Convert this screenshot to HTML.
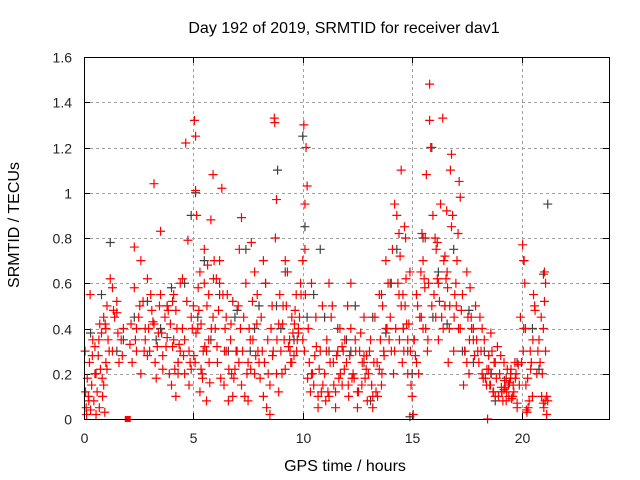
<!DOCTYPE html>
<html><head><meta charset="utf-8"><style>
body{margin:0;background:#fff}
svg{display:block;font-family:"Liberation Sans",sans-serif}
</style></head><body>
<svg id="chart" width="640" height="480">
<text x="344" y="33" font-size="16" text-anchor="middle" fill="#000">Day 192 of 2019, SRMTID for receiver dav1</text>
<text x="345" y="471" font-size="16" text-anchor="middle">GPS time / hours</text>
<text transform="translate(19,225) rotate(-90)" font-size="16" text-anchor="middle">SRMTID / TECUs</text>
<g id="grid"></g><g id="ticks"></g><g id="gray"></g><g id="red"></g>
<rect x="84.5" y="57.5" width="525" height="362" fill="none" stroke="#000"/>
</svg>
<script>
const xTicks=[0,5,10,15,20];
const yTicks=[0,0.2,0.4,0.6,0.8,1,1.2,1.4,1.6];
const yTickLabels=["0","0.2","0.4","0.6","0.8","1","1.2","1.4","1.6"];
const redT=[0.05,0.1,0.15,0.2,0.25,0.3,0.35,0.4,0.45,0.5,0.55,0.6,0.65,0.7,0.75,0.8,0.85,0.9,0.95,1.0,1.05,0.12,0.28,0.5,0.72,0.9,
1.0,1.1,1.2,1.3,1.4,1.5,1.6,1.7,1.8,1.3,1.5,1.05,
2.1,2.2,2.3,2.4,2.5,2.6,2.7,2.8,2.9,3.0,3.1,3.2,3.3,3.4,3.5,3.6,3.7,3.8,3.9,2.3,2.6,2.9,3.2,3.5,3.8,3.15,3.25,2.4,2.8,3.6,
4.0,4.1,4.2,4.3,4.4,4.5,4.6,4.7,4.8,4.9,4.2,4.5,4.8,4.65,4.75,4.1,4.35,4.85,
5.0,5.05,5.1,5.2,5.3,5.4,5.5,5.6,5.7,5.8,5.9,5.1,5.3,5.5,5.7,5.9,5.08,5.15,5.95,5.6,5.25,5.45,5.75,
6.0,6.1,6.2,6.3,6.4,6.5,6.6,6.7,6.8,6.9,6.2,6.5,6.8,6.35,6.05,6.45,6.75,
7.0,7.1,7.2,7.3,7.4,7.5,7.6,7.7,7.8,7.9,7.2,7.5,7.8,7.35,7.05,7.65,7.95,
8.0,8.1,8.2,8.3,8.4,8.5,8.6,8.7,8.8,8.9,8.2,8.5,8.8,8.72,8.75,8.65,8.95,8.35,
9.0,9.1,9.2,9.3,9.4,9.5,9.6,9.7,9.8,9.9,9.2,9.5,9.8,9.35,9.65,9.05,
10.0,10.05,10.1,10.15,10.2,10.3,10.4,10.5,10.6,10.7,10.8,10.9,10.1,10.4,10.7,10.25,10.55,10.85,10.0,10.12,
11.0,11.1,11.2,11.3,11.4,11.5,11.6,11.7,11.8,11.9,11.2,11.5,11.8,11.35,11.65,11.05,
12.0,12.1,12.2,12.3,12.4,12.5,12.6,12.7,12.8,12.9,12.2,12.5,12.8,12.35,12.65,12.05,12.95,
13.0,13.1,13.2,13.3,13.4,13.5,13.6,13.7,13.8,13.9,13.2,13.5,13.8,13.35,13.65,13.95,
14.0,14.1,14.2,14.3,14.4,14.5,14.6,14.7,14.8,14.9,14.2,14.5,14.8,14.35,14.65,14.55,14.45,14.75,14.95,
15.0,15.1,15.2,15.3,15.4,15.5,15.6,15.7,15.8,15.9,15.2,15.5,15.8,15.35,15.75,15.85,15.95,15.65,15.05,
16.0,16.1,16.2,16.3,16.4,16.5,16.6,16.7,16.8,16.9,16.2,16.5,16.8,16.35,16.75,16.85,16.95,16.65,16.05,16.45,
17.0,17.1,17.2,17.3,17.4,17.5,17.6,17.7,17.8,17.9,17.2,17.5,17.8,17.05,17.15,17.35,17.65,
18.0,18.1,18.2,18.3,18.4,18.5,18.6,18.7,18.8,18.9,18.2,18.5,18.8,18.35,18.65,18.45,18.55,18.75,
19.0,19.1,19.2,19.3,19.4,19.5,19.6,19.7,19.8,19.9,19.2,19.5,19.8,19.35,19.65,19.45,19.55,19.75,19.05,19.25,
20.0,20.05,20.1,20.15,20.2,20.3,20.4,20.5,20.6,20.7,20.8,20.9,20.25,20.35,20.45,20.55,20.12,20.22,
21.0,21.05,21.1,21.15,21.2,21.0,21.1,21.15,20.95,21.05,
0.07,0.22,0.38,0.55,0.68,0.83,0.97,1.15,1.35,1.55,1.75,2.15,2.35,2.55,2.75,2.95,3.05,3.35,3.45,3.55,3.75,3.85,3.95,
4.05,4.15,4.25,4.4,4.55,4.95,4.05,4.3,4.6,4.9,5.02,5.12,5.22,5.35,5.42,5.52,5.62,5.72,5.82,5.92,5.35,5.65,
6.08,6.15,6.25,6.42,6.55,6.62,6.72,6.85,6.95,7.08,7.15,7.25,7.45,7.55,7.62,7.72,7.85,7.92,
8.05,8.15,8.25,8.42,8.55,8.62,8.82,8.9,9.08,9.15,9.25,9.42,9.55,9.62,9.72,9.85,9.92,9.45,9.75,
10.08,10.22,10.35,10.45,10.62,10.75,10.92,11.08,11.15,11.25,11.42,11.55,11.72,11.85,11.92,
12.08,12.15,12.25,12.42,12.55,12.72,12.85,12.92,13.05,13.15,13.25,13.42,13.55,13.62,13.72,13.85,
14.05,14.15,14.25,14.42,14.58,14.62,14.72,14.85,14.92,14.05,14.4,14.68,15.08,15.15,15.25,15.42,15.55,15.62,15.72,15.45,15.58,
16.08,16.15,16.25,16.42,16.55,16.62,16.72,16.92,16.15,16.58,17.02,17.12,17.25,17.42,17.55,17.62,17.72,17.85,17.95,
18.05,18.15,18.25,18.42,18.58,18.62,18.72,18.85,18.95,19.08,19.15,19.22,19.32,19.42,19.52,19.62,19.72,19.85,19.95,
20.08,20.18,20.28,20.42,20.52,20.62,20.75,20.85,20.92,21.02,21.08,21.18];
const redV=[0.3,0.05,0.18,0.1,0.25,0.04,0.15,0.35,0.08,0.2,0.02,0.12,0.28,0.05,0.22,0.38,0.1,0.45,0.03,0.25,0.5,0.02,0.55,0.32,0.42,0.15,
0.4,0.35,0.62,0.3,0.45,0.52,0.25,0.35,0.4,0.58,0.47,0.22,
0.33,0.25,0.58,0.4,0.45,0.2,0.52,0.35,0.62,0.3,0.48,0.42,0.18,0.38,0.55,0.28,0.45,0.36,0.2,0.76,0.7,0.28,1.04,0.83,0.5,0.43,0.25,0.3,0.4,0.22,
0.15,0.35,0.48,0.25,0.6,0.4,0.2,0.52,0.3,0.45,0.1,0.62,0.15,1.22,0.79,0.55,0.33,0.25,
0.5,1.32,1.25,0.4,0.65,0.2,0.75,0.3,0.55,0.88,0.45,1.01,0.12,0.6,0.35,1.08,0.25,0.9,0.7,0.08,0.48,0.3,0.16,
0.4,0.25,0.6,1.02,0.15,0.45,0.08,0.35,0.52,0.22,0.7,0.3,0.1,0.55,0.62,0.4,0.2,
0.3,0.75,0.15,0.45,0.6,0.08,0.35,0.52,0.2,0.42,0.89,0.25,0.65,0.1,0.5,0.78,0.3,
0.25,0.45,0.1,0.6,0.35,0.02,0.5,1.33,0.2,0.42,0.7,0.15,0.97,1.31,0.8,0.3,0.55,0.05,
0.3,0.5,0.22,0.65,0.35,0.45,0.28,0.55,0.38,0.6,0.7,0.25,0.4,0.32,0.48,0.2,
0.35,1.3,0.95,1.2,1.03,0.25,0.6,0.15,0.45,0.1,0.3,0.5,0.75,0.2,0.05,0.4,0.28,0.12,0.7,0.55,
0.2,0.35,0.1,0.45,0.25,0.05,0.3,0.4,0.15,0.22,0.6,0.12,0.32,0.5,0.18,0.08,
0.25,0.1,0.4,0.2,0.35,0.05,0.3,0.15,0.45,0.22,0.6,0.12,0.28,0.18,0.38,0.5,0.08,
0.2,0.35,0.1,0.45,0.25,0.55,0.15,0.3,0.4,0.6,0.05,0.22,0.7,0.12,0.5,0.35,
0.45,0.75,0.3,0.9,0.55,1.1,0.4,0.8,0.2,0.65,0.95,0.5,0.35,0.6,0.85,0.25,0.72,0.42,0.15,
0.1,0.35,0.55,0.2,0.65,0.4,0.8,0.3,1.32,0.5,0.25,0.7,1.48,0.45,0.6,1.2,0.9,1.08,0.02,
0.55,0.75,0.35,0.95,1.33,0.5,0.65,0.4,0.85,0.3,0.6,0.72,1.17,0.45,1.1,0.9,0.55,0.25,0.8,0.7,
0.6,0.82,0.4,0.55,0.3,0.65,0.2,0.45,0.35,0.5,0.98,0.25,0.4,0.7,1.05,0.15,0.58,
0.3,0.45,0.2,0.35,0.15,0.28,0.38,0.12,0.25,0.32,0.4,0.22,0.1,0.18,0.3,0.0,0.15,0.25,
0.2,0.12,0.25,0.08,0.15,0.2,0.1,0.25,0.05,0.15,0.13,0.18,0.07,0.22,0.12,0.16,0.09,0.2,0.28,0.14,
0.25,0.77,0.4,0.6,0.15,0.05,0.3,0.1,0.5,0.2,0.35,0.45,0.03,0.08,0.25,0.55,0.7,0.04,
0.07,0.65,0.3,0.02,0.08,0.4,0.6,0.1,0.2,0.52,
0.12,0.08,0.28,0.2,0.35,0.18,0.42,0.3,0.48,0.38,0.28,0.42,0.35,0.5,0.3,0.4,0.55,0.32,0.5,0.38,0.32,0.48,0.42,
0.32,0.22,0.4,0.3,0.28,0.4,0.52,0.2,0.35,0.22,0.28,0.38,0.58,0.42,0.18,0.32,0.5,0.25,0.4,0.62,0.22,0.68,
0.32,0.48,0.18,0.3,0.55,0.22,0.42,0.18,0.3,0.25,0.4,0.3,0.2,0.4,0.22,0.35,0.28,0.55,
0.18,0.3,0.25,0.2,0.4,0.28,0.35,0.12,0.42,0.35,0.5,0.3,0.38,0.42,0.3,0.45,0.55,0.25,0.35,
0.3,0.18,0.12,0.2,0.32,0.22,0.15,0.3,0.12,0.25,0.15,0.28,0.2,0.3,0.35,
0.15,0.28,0.18,0.3,0.12,0.25,0.18,0.28,0.3,0.15,0.25,0.1,0.35,0.2,0.28,0.4,
0.3,0.2,0.4,0.35,0.55,0.3,0.62,0.42,0.3,0.6,0.82,0.5,0.35,0.28,0.5,0.45,0.62,0.4,0.35,0.82,0.58,
0.45,0.62,0.52,0.4,0.62,0.58,0.5,0.45,0.78,0.92,0.5,0.4,0.48,0.3,0.45,0.35,0.4,0.28,
0.35,0.25,0.3,0.18,0.22,0.15,0.2,0.12,0.18,0.1,0.14,0.08,0.17,0.12,0.1,0.22,0.15,0.18,0.24,
0.45,0.3,0.4,0.18,0.22,0.35,0.48,0.3,0.25,0.1,0.05,0.08];
const grayT=[0.3,0.8,1.2,1.5,2.3,2.9,3.3,3.8,4.3,4.6,4.9,5.2,5.5,5.8,6.2,6.6,7.0,7.4,7.8,8.3,8.8,9.2,9.6,10.0,10.2,10.5,10.8,11.2,11.6,12.0,12.4,12.8,13.2,13.6,14.0,14.3,14.6,14.9,15.2,15.5,15.9,16.2,16.5,16.9,17.3,17.8,18.3,18.8,19.3,19.8,20.1,20.5,21.0,21.2,5.1,10.1,14.8,15.95,13.1,8.85,
1.8,3.5,4.0,6.9,7.6,8.0,9.0,11.0,12.2,13.8,15.0,16.6,17.6,18.6,19.1,20.8];
const grayV=[0.38,0.55,0.78,0.3,0.45,0.52,0.35,0.5,0.25,0.6,0.9,0.45,0.7,0.35,0.55,0.3,0.48,0.75,0.4,0.6,0.5,0.65,0.35,1.25,0.45,0.55,0.75,0.3,0.4,0.35,0.5,0.25,0.45,0.55,0.6,0.75,0.4,0.01,0.55,0.8,1.2,0.65,0.5,0.75,0.3,0.25,0.3,0.08,0.18,0.25,0.7,0.4,0.64,0.95,1.0,0.85,0.3,0.45,0.08,1.1,
0.35,0.4,0.58,0.45,0.3,0.5,0.4,0.45,0.3,0.38,0.2,0.42,0.48,0.2,0.12,0.22];
const X=t=>84+t*(525/24), Y=v=>419-v*(362/1.6);
const NS="http://www.w3.org/2000/svg";
function mk(tag,attrs,parent){const e=document.createElementNS(NS,tag);for(const k in attrs)e.setAttribute(k,attrs[k]);parent.appendChild(e);return e;}
const grid=document.getElementById('grid'),ticks=document.getElementById('ticks');
xTicks.forEach(t=>{const x=Math.round(X(t))+0.5;
 if(t>0){const g=mk('line',{x1:x,x2:x,y1:57,y2:419,stroke:'#a0a0a0','stroke-dasharray':'3,3'},grid);
 
 }
 mk('line',{x1:x,x2:x,y1:419,y2:413,stroke:'#000'},ticks);
 mk('line',{x1:x,x2:x,y1:57,y2:63,stroke:'#000'},ticks);
 const l=mk('text',{x:x,y:443,'font-size':14,'text-anchor':'middle',fill:'#222'},ticks);l.textContent=t;
 
 });
yTicks.forEach((v,i)=>{const y=Math.round(Y(v))+0.5;
 if(v>0&&v<1.6){const g=mk('line',{x1:84,x2:609,y1:y,y2:y,stroke:'#a0a0a0','stroke-dasharray':'3,3'},grid);
 
 }
 mk('line',{x1:84,x2:90,y1:y,y2:y,stroke:'#000'},ticks);
 mk('line',{x1:603,x2:609,y1:y,y2:y,stroke:'#000'},ticks);
 const l=mk('text',{x:72,y:y+5,'font-size':14,'text-anchor':'end',fill:'#222'},ticks);l.textContent=yTickLabels[i];
 
 });
function plus(g,t,v,c,name){const x=X(t),y=Y(v);
 const p=mk('path',{d:`M${x-4.5} ${y}H${x+4.5}M${x} ${y-4.5}V${y+4.5}`,stroke:c,'stroke-width':1.2,fill:'none'},g);
 
 }
const gg=document.getElementById('gray'),rg=document.getElementById('red');
grayT.forEach((t,i)=>plus(gg,t,grayV[i],'#404040','gray-point'));
redT.forEach((t,i)=>plus(rg,t,redV[i],'#ff0000','red-point'));
const sq=mk('rect',{x:X(2)-3,y:416,width:6,height:6,fill:'#ff0000'},rg);


</script>
</body></html>
